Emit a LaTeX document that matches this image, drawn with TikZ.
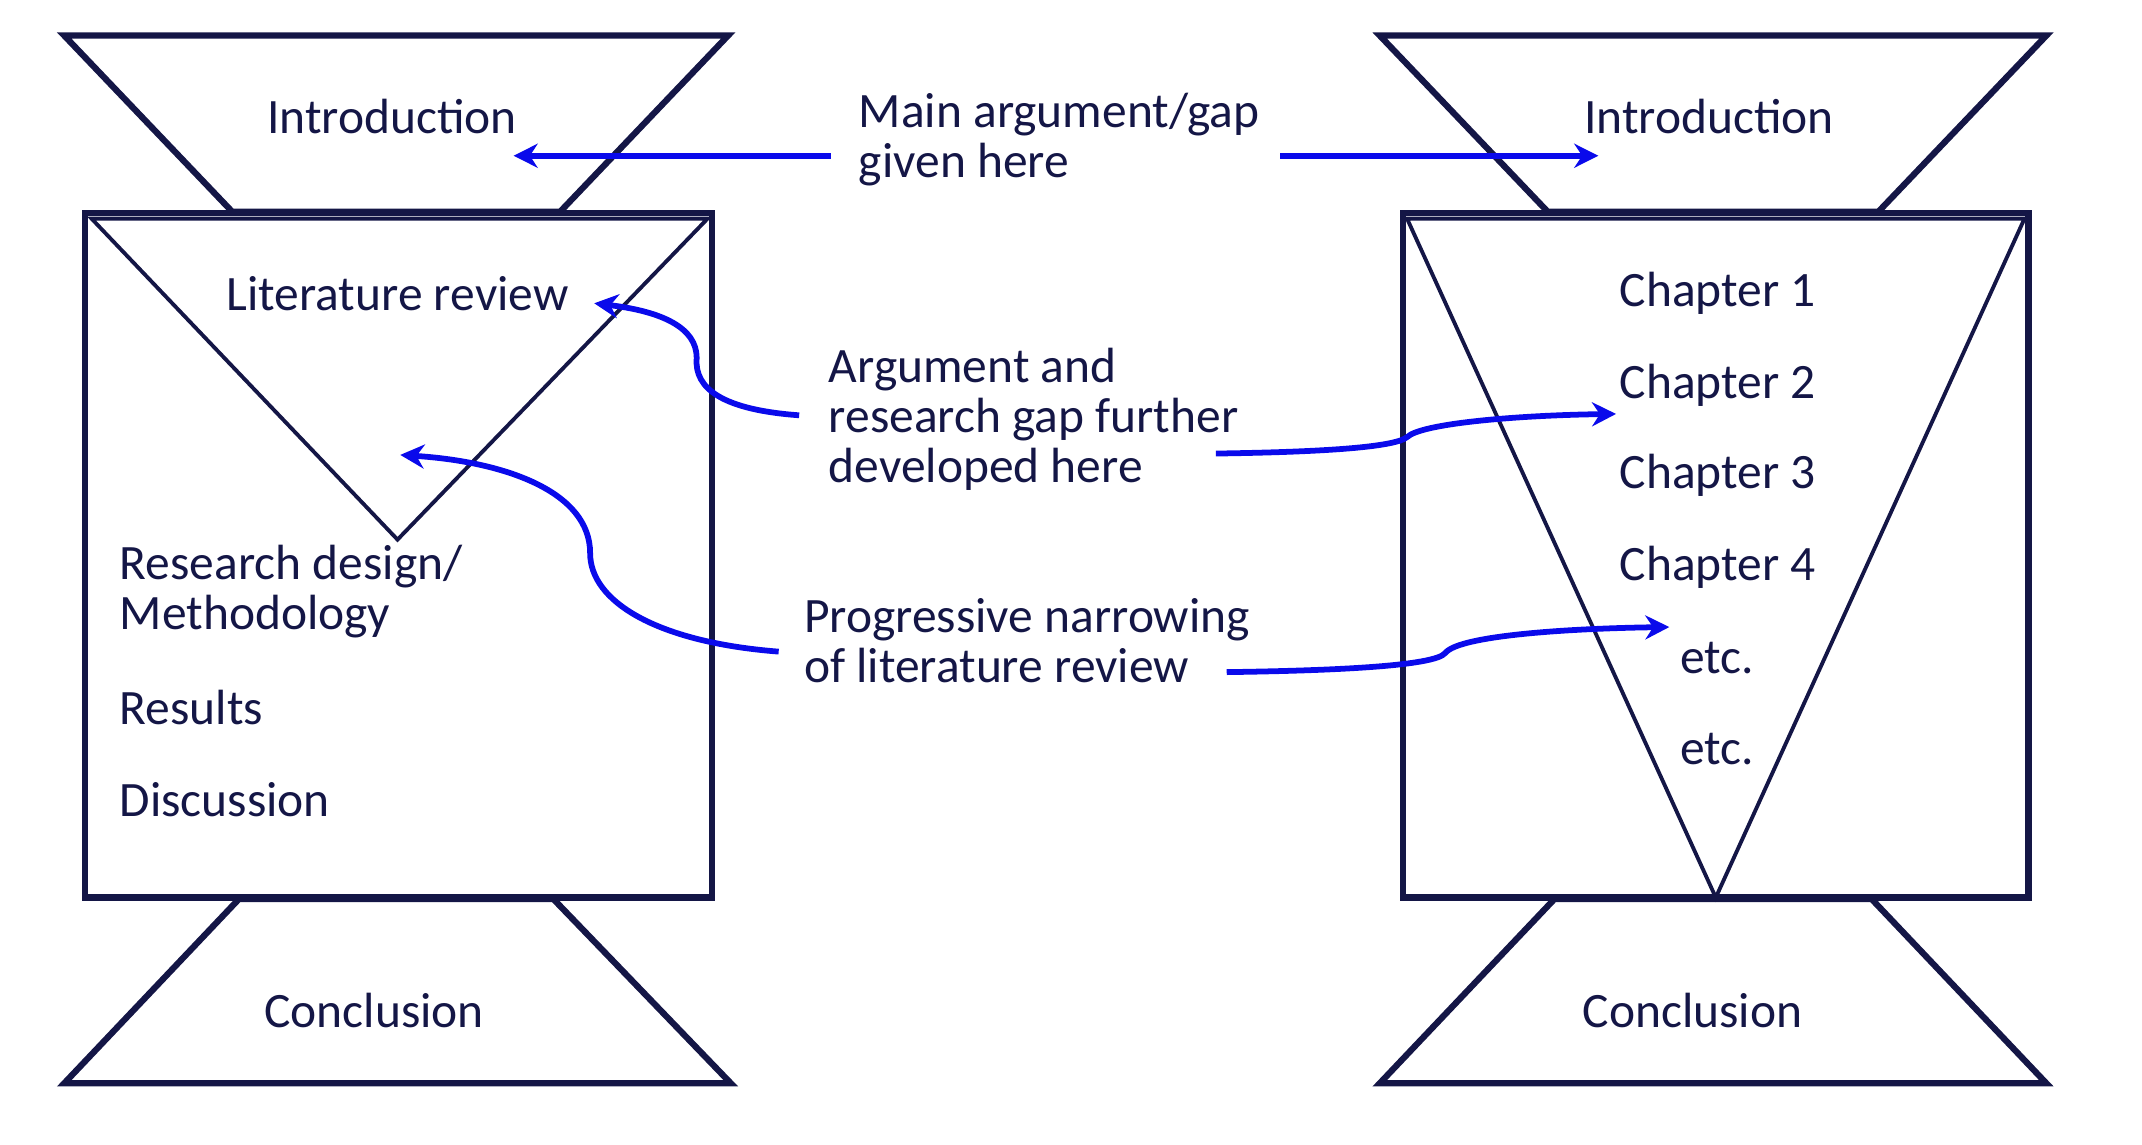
\documentclass[tikz,border=0pt]{standalone}
\usepackage{fontspec}
\setmainfont{Carlito}
\usetikzlibrary{arrows.meta}
\definecolor{navy}{RGB}{20,22,70}
\definecolor{arrblue}{RGB}{10,10,235}
\begin{document}
\begin{tikzpicture}[x=0.01cm,y=-0.01cm,
		frame/.style={navy,line width=1.3pt,line join=miter},
		thin frame/.style={navy,line width=0.8pt},
		lbl/.style={text=navy,font=\fontsize{10.3}{10.4}\selectfont,inner sep=0pt},
		lbll/.style={lbl,anchor=west,align=left},
		pointer/.style={arrblue,line width=1.2pt,-{Stealth[length=5pt,width=5pt]}}]
		\useasboundingbox (0,0) rectangle (1568,838);
		% left: thesis
		\draw[frame] (47,26) -- (533,26) -- (410,155) -- (170,155) -- cycle;
		\draw[frame] (62,156) rectangle (521,657);
		\draw[thin frame] (67,160) -- (518,160) -- (291,395) -- cycle;
		\draw[frame] (175,658) -- (405,658) -- (535,793) -- (47,793) -- cycle;
		% right: thesis by chapters
		\draw[frame] (1010,26) -- (1498,26) -- (1375,155) -- (1133,155) -- cycle;
		\draw[frame] (1027,156) rectangle (1485,657);
		\draw[thin frame] (1030,160) -- (1482,160) -- (1256,657) -- cycle;
		\draw[frame] (1138,658) -- (1370,658) -- (1498,793) -- (1010,793) -- cycle;
		% texts
		\node[lbl] (introL) at (287,85) {Introduction};
		\node[lbl] (litrev) at (291,215) {Literature review};
		\node[lbll] (design) at (87,433) {Research design/\\Methodology};
		\node[lbll] (results) at (87,518) {Results};
		\node[lbll] (discuss) at (87,585) {Discussion};
		\node[lbl] (conclL) at (274,740) {Conclusion};
		\node[lbl] (introR) at (1251,85) {Introduction};
		\node[lbll] (ch1) at (1185,215) {Chapter 1};
		\node[lbll] (ch2) at (1185,282) {Chapter 2};
		\node[lbll] (ch3) at (1185,348) {Chapter 3};
		\node[lbll] (ch4) at (1185,415) {Chapter 4};
		\node[lbl] (etc1) at (1257,482) {etc.};
		\node[lbl] (etc2) at (1257,548) {etc.};
		\node[lbl] (conclR) at (1239,740) {Conclusion};
		\node[lbll] (main) at (628,102) {Main argument/gap\\given here};
		\node[lbll] (argum) at (606,307) {Argument and\\research gap further\\developed here};
		\node[lbll] (narrow) at (588,469) {Progressive narrowing\\of literature review};
		% pointers
		\coordinate (mainL) at (608,114);
		\coordinate (mainR) at (937,114);
		\draw[pointer] (mainL) -- (376,114);
		\draw[pointer] (mainR) -- (1170,114);
		\coordinate (argL) at (585,304);
		\coordinate (argR) at (890,332);
		\draw[pointer] (argL) .. controls (530,300) and (508,285) .. (510,262)
			.. controls (510,240) and (485,228) .. (435,222);
		\draw[pointer] (argR) .. controls (960,331) and (1020,328) .. (1030,320)
			.. controls (1040,310) and (1110,304) .. (1183,303);
		\coordinate (narL) at (570,477);
		\coordinate (narR) at (898,492);
		\draw[pointer] (narL) .. controls (480,470) and (432,440) .. (432,405)
			.. controls (432,360) and (370,338) .. (293,333);
		\draw[pointer] (narR) .. controls (970,491) and (1050,488) .. (1058,478)
			.. controls (1068,465) and (1150,460) .. (1222,459);
\end{tikzpicture}
\end{document}
